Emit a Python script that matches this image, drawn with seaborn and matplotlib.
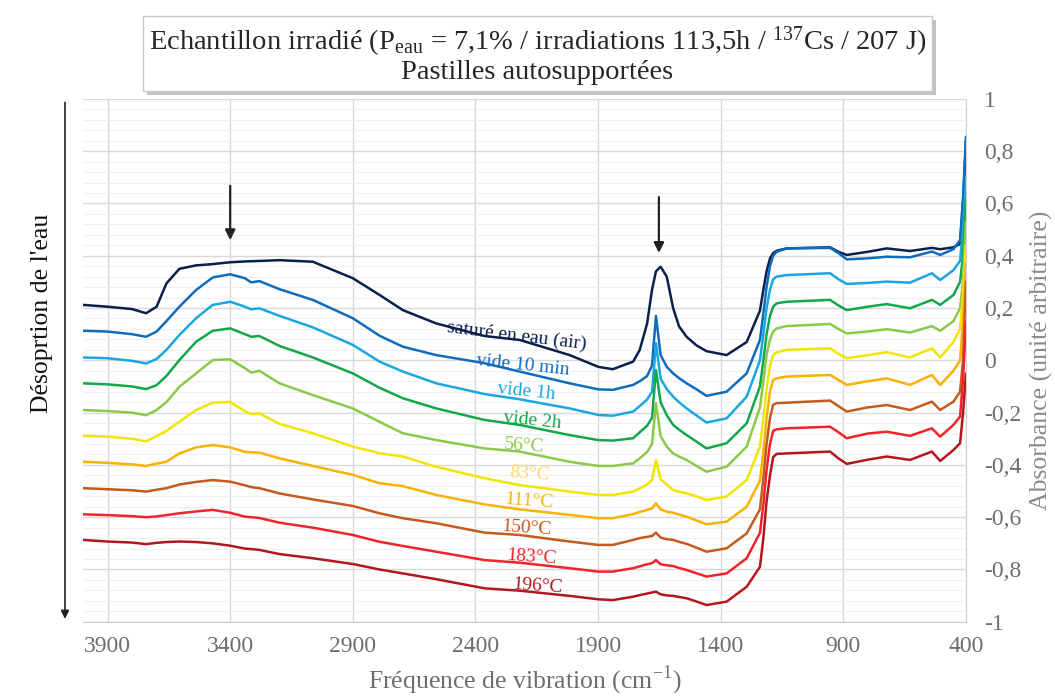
import pandas as pd
import seaborn as sns
import matplotlib.pyplot as plt
from matplotlib import patheffects as pe
from matplotlib.patches import FancyArrowPatch
from matplotlib.ticker import FuncFormatter, MultipleLocator

# values
wavenumber = [4000, 3900, 3800, 3743, 3700, 3660, 3607, 3539, 3471, 3400,
              3340, 3314, 3281, 3199, 3063,
              2900, 2791, 2696, 2560, 2363, 2220,
              2016, 1899, 1840,
              1757, 1730, 1700, 1680, 1664, 1645, 1620, 1594, 1570, 1539,
              1500, 1458, 1376, 1294,
              1240, 1226, 1213, 1199, 1186, 1172,
              1131,
              954, 920, 886, 800, 723, 628, 539, 505, 451,
              424, 412, 400]

sature = [0.212, 0.205, 0.196, 0.18, 0.205, 0.294, 0.35, 0.363, 0.368, 0.375,
          0.378, 0.379, 0.38, 0.383, 0.377,
          0.314, 0.25, 0.192, 0.141, 0.093, 0.078,
          0.02, -0.025, -0.034,
          -0.005, 0.04, 0.141, 0.27, 0.34, 0.358, 0.32, 0.2, 0.13, 0.09,
          0.058, 0.035, 0.02, 0.07,
          0.19, 0.27, 0.34, 0.39, 0.41, 0.419,
          0.428,
          0.432, 0.415, 0.403, 0.415, 0.428, 0.418, 0.43, 0.425, 0.432,
          0.445, 0.6, 0.84]

vide_10min = [0.113, 0.11, 0.10, 0.09, 0.11, 0.15, 0.205, 0.269, 0.317, 0.329,
              0.314, 0.298, 0.303, 0.272, 0.231,
              0.161, 0.094, 0.052, 0.02, -0.011, -0.043,
              -0.088, -0.111, -0.113,
              -0.094, -0.08, -0.06, -0.02, 0.17, 0.02, -0.025, -0.05, -0.068, -0.088,
              -0.11, -0.136, -0.12, -0.05,
              0.078, 0.18, 0.28, 0.36, 0.40, 0.415,
              0.428,
              0.43, 0.41, 0.386, 0.39, 0.396, 0.394, 0.416, 0.403, 0.425,
              0.46, 0.62, 0.855]

vide_1h = [0.011, 0.008, -0.002, -0.012, 0.005, 0.04, 0.097, 0.161, 0.212, 0.224,
           0.205, 0.195, 0.199, 0.17, 0.126,
           0.059, -0.005, -0.043, -0.088, -0.129, -0.149,
           -0.184, -0.209, -0.212,
           -0.196, -0.175, -0.15, -0.12, 0.065, -0.07, -0.11, -0.139, -0.16, -0.184,
           -0.21, -0.238, -0.222, -0.139,
           0.0, 0.1, 0.2, 0.27, 0.31, 0.32,
           0.326,
           0.333, 0.31, 0.292, 0.296, 0.301, 0.297, 0.333, 0.307, 0.345,
           0.38, 0.5, 0.69]

vide_2h = [-0.088, -0.092, -0.10, -0.11, -0.095, -0.06, 0.001, 0.071, 0.113, 0.122,
           0.1, 0.09, 0.093, 0.055, 0.011,
           -0.05, -0.105, -0.145, -0.184, -0.228, -0.247,
           -0.286, -0.305, -0.307,
           -0.298, -0.275, -0.25, -0.22, -0.037, -0.16, -0.21, -0.247, -0.265, -0.286,
           -0.31, -0.337, -0.317, -0.241,
           -0.10, 0.0, 0.1, 0.17, 0.205, 0.218,
           0.224,
           0.231, 0.21, 0.192, 0.205, 0.215, 0.199, 0.231, 0.212, 0.25,
           0.3, 0.4, 0.615]

t56 = [-0.19, -0.194, -0.2, -0.21, -0.19, -0.16, -0.101, -0.05, 0.001, 0.004,
       -0.03, -0.047, -0.04, -0.088, -0.133,
       -0.184, -0.235, -0.279, -0.305, -0.337, -0.349,
       -0.388, -0.404, -0.404,
       -0.394, -0.375, -0.35, -0.32, -0.164, -0.29, -0.33, -0.356, -0.368, -0.381,
       -0.403, -0.426, -0.407, -0.33,
       -0.18, -0.08, 0.02, 0.08, 0.11, 0.122,
       0.131,
       0.139, 0.12, 0.103, 0.11, 0.119, 0.106, 0.131, 0.113, 0.15,
       0.2, 0.3, 0.53]

t83 = [-0.289, -0.292, -0.3, -0.31, -0.29, -0.27, -0.235, -0.19, -0.162, -0.159,
       -0.195, -0.205, -0.203, -0.243, -0.279,
       -0.33, -0.355, -0.368, -0.407, -0.451, -0.477,
       -0.502, -0.515, -0.515,
       -0.502, -0.49, -0.475, -0.458, -0.381, -0.455, -0.475, -0.496, -0.502, -0.509,
       -0.52, -0.534, -0.521, -0.458,
       -0.33, -0.22, -0.11, -0.02, 0.02, 0.03,
       0.04,
       0.046, 0.025, 0.008, 0.02, 0.031, 0.011, 0.046, 0.011, 0.07,
       0.12, 0.25, 0.44]

t111 = [-0.388, -0.392, -0.398, -0.404, -0.395, -0.388, -0.356, -0.333, -0.324, -0.333,
        -0.35, -0.352, -0.353, -0.375, -0.404,
        -0.438, -0.47, -0.481, -0.515, -0.551, -0.57,
        -0.591, -0.604, -0.604,
        -0.588, -0.58, -0.572, -0.566, -0.547, -0.57, -0.579, -0.583, -0.59, -0.598,
        -0.612, -0.627, -0.617, -0.56,
        -0.46, -0.35, -0.22, -0.12, -0.075, -0.069,
        -0.062,
        -0.056, -0.075, -0.094, -0.08, -0.069, -0.094, -0.056, -0.094, -0.04,
        0.0, 0.15, 0.37]

t150 = [-0.489, -0.493, -0.497, -0.502, -0.495, -0.489, -0.475, -0.465, -0.458, -0.464,
        -0.478, -0.485, -0.489, -0.509, -0.532,
        -0.557, -0.585, -0.604, -0.623, -0.659, -0.668,
        -0.693, -0.706, -0.706,
        -0.687, -0.68, -0.675, -0.672, -0.659, -0.678, -0.684, -0.687, -0.694, -0.702,
        -0.716, -0.732, -0.719, -0.662,
        -0.57, -0.45, -0.32, -0.22, -0.17, -0.164,
        -0.162,
        -0.154, -0.175, -0.196, -0.18, -0.171, -0.19, -0.158, -0.19, -0.158,
        -0.12, 0.0, 0.3]

t183 = [-0.589, -0.592, -0.596, -0.6, -0.597, -0.592, -0.585, -0.578, -0.572, -0.583,
        -0.598, -0.6, -0.603, -0.621, -0.64,
        -0.668, -0.694, -0.71, -0.732, -0.764, -0.774,
        -0.795, -0.808, -0.808,
        -0.795, -0.788, -0.78, -0.776, -0.764, -0.78, -0.784, -0.787, -0.794, -0.802,
        -0.814, -0.827, -0.815, -0.757,
        -0.66, -0.55, -0.42, -0.32, -0.27, -0.264,
        -0.26,
        -0.254, -0.275, -0.298, -0.28, -0.273, -0.289, -0.26, -0.292, -0.247,
        -0.215, -0.075, 0.15]

t196 = [-0.687, -0.693, -0.697, -0.703, -0.698, -0.695, -0.693, -0.695, -0.7, -0.709,
        -0.72, -0.722, -0.725, -0.741, -0.757,
        -0.779, -0.8, -0.815, -0.837, -0.872, -0.881,
        -0.901, -0.914, -0.917,
        -0.904, -0.898, -0.892, -0.888, -0.885, -0.895, -0.899, -0.901, -0.905, -0.91,
        -0.922, -0.936, -0.923, -0.866,
        -0.79, -0.68, -0.54, -0.44, -0.37, -0.358,
        -0.356,
        -0.349, -0.375, -0.396, -0.38, -0.368, -0.381, -0.349, -0.385, -0.343,
        -0.317, -0.203, -0.05]

series_names = ['saturé en eau (air)', 'vide 10 min', 'vide 1h', 'vide 2h',
                '56°C', '83°C', '111°C', '150°C', '183°C', '196°C']
series_values = [sature, vide_10min, vide_1h, vide_2h, t56, t83, t111, t150, t183, t196]

line_colors = ['#0b1f4d', '#0f6cbd', '#1aa7e0', '#12a84a', '#8cc84b',
               '#f2e600', '#f9b200', '#c55a1e', '#f2232a', '#b3171e']
label_colors = ['#0b1f4d', '#0f6cbd', '#1aa7e0', '#12a84a', '#8cc84b',
                '#ffd966', '#f5b31a', '#c55a1e', '#f2232a', '#b3171e']
# (x, y, rotation) of the inline labels
label_pos = [(2232, 0.093, -7), (2208, -0.018, -6), (2192, -0.121, -6), (2167, -0.229, -6),
             (2200, -0.328, -4), (2180, -0.435, -4), (2180, -0.538, -4), (2192, -0.641, -4),
             (2172, -0.752, -4), (2147, -0.863, -4)]

# long-form table for seaborn
frames = []
for name, vals in zip(series_names, series_values):
    frames.append(pd.DataFrame({'Fréquence': wavenumber, 'Absorbance': vals, 'Echantillon': name}))
df = pd.concat(frames, ignore_index=True)

sns.set_style('white')
plt.rcParams['font.family'] = ['Liberation Serif', 'DejaVu Serif']
plt.rcParams['mathtext.fontset'] = 'custom'
plt.rcParams['mathtext.rm'] = 'Liberation Serif'

fig = plt.figure(figsize=(10.55, 6.97), dpi=100)
ax = fig.add_axes([0.0787, 0.1079, 0.8369, 0.7503])

sns.lineplot(data=df, x='Fréquence', y='Absorbance', hue='Echantillon',
             hue_order=series_names, palette=dict(zip(series_names, line_colors)),
             sort=False, estimator=None, legend=False, linewidth=1.8, ax=ax)

ax.set_xlim(4000, 400)
ax.set_ylim(-1, 1)
ax.set_xticks([3900, 3400, 2900, 2400, 1900, 1400, 900, 400])
ax.yaxis.set_major_locator(MultipleLocator(0.2))
ax.yaxis.set_minor_locator(MultipleLocator(0.04))
ax.yaxis.set_major_formatter(FuncFormatter(
    lambda v, p: f'{v:.1f}'.rstrip('0').rstrip('.').replace('.', ',') if abs(v) > 1e-9 else '0'))
ax.yaxis.tick_right()

ax.grid(True, which='major', color='#d9d9d9', linewidth=1)
ax.grid(True, which='minor', axis='y', color='#f0f0f0', linewidth=0.8)
ax.set_axisbelow(True)
ax.tick_params(axis='both', which='both', length=0, labelsize=17, labelcolor='#6e6e6e')
ax.tick_params(axis='x', pad=10)
ax.tick_params(axis='y', pad=13)

for s in ['left', 'top']:
    ax.spines[s].set_visible(False)
for s in ['right', 'bottom']:
    ax.spines[s].set_color('#d0d0d0')

ax.set_xlabel('Fréquence de vibration (cm$^{\\mathregular{-1}}$)', fontsize=18.5, color='#6e6e6e', labelpad=5)
ax.set_ylabel('')
fig.text(0.9875, 0.483, 'Absorbance (unité arbitraire)', rotation=90, fontsize=18.5,
         color='#8a8a8a', ha='center', va='center')

for name, col, (x, y, r) in zip(series_names, label_colors, label_pos):
    ax.text(x, y, name, color=col, fontsize=14, ha='center', va='center', rotation=r,
            rotation_mode='anchor')

# arrows marking the water bands
ax.annotate('', xy=(3400, 0.449), xytext=(3400, 0.678),
            arrowprops=dict(arrowstyle='-|>', color='#222222', lw=1.6, mutation_scale=15))
ax.annotate('', xy=(1652, 0.40), xytext=(1652, 0.635),
            arrowprops=dict(arrowstyle='-|>', color='#222222', lw=1.6, mutation_scale=15))

# desorption arrow on the left
fig.patches.append(FancyArrowPatch(
    (0.0616, 0.857), (0.0616, 0.108), transform=fig.transFigure,
    arrowstyle='-|>', color='#222222', lw=1.2, mutation_scale=12))
fig.text(0.040, 0.55, "Désoprtion de l'eau", rotation=90, fontsize=18.5,
         ha='center', va='center', color='#111111')

title = fig.text(0.5095, 0.921,
                 'Echantillon irradié (P$\\mathregular{_{eau}}$ = 7,1% / irradiations 113,5h / '
                 '$\\mathregular{^{137}}$Cs / 207 J)\nPastilles autosupportées',
                 ha='center', va='center', multialignment='center', fontsize=20.5, linespacing=1.05,
                 bbox=dict(boxstyle='square,pad=0.2', fc='white', ec='#c8c8c8', lw=1))
title.get_bbox_patch().set_path_effects([
    pe.SimplePatchShadow(offset=(3, -3), shadow_rgbFace='#9a9a9a', alpha=0.6), pe.Normal()])

fig.savefig('out.png', dpi=100)
